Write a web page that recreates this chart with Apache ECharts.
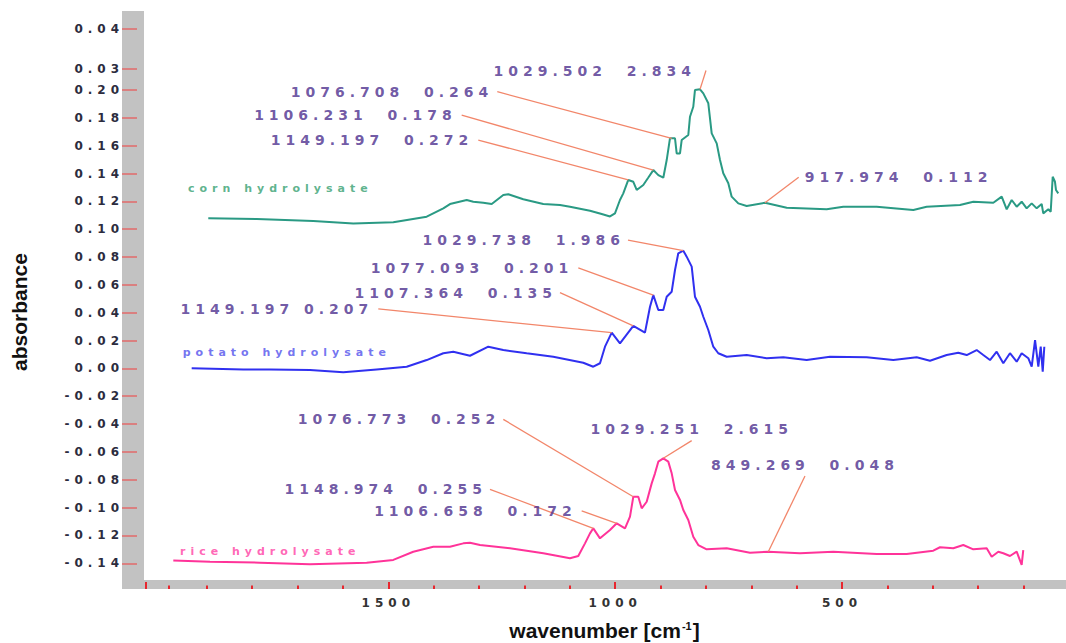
<!DOCTYPE html>
<html>
<head>
<meta charset="utf-8">
<script src="https://cdn.jsdelivr.net/npm/echarts@6/dist/echarts.min.js"></script>
<style>
html, body { margin: 0; padding: 0; background: #ffffff; }
#chart { width: 1066px; height: 643px; }
#chart text { letter-spacing: 5px; white-space: pre; }
#chart text[style*="Liberation"] { letter-spacing: 0px; }
</style>
</head>
<body>
<div id="chart"></div>
<script>
// ---------------- data (wavenumber on the drawn axis, absorbance on the drawn axis) ----------------
const cornData = [
  [1896.8,0.1078],[1790.1,0.1073],[1665.4,0.1059],[1577.2,0.1042],[1489.0,0.1050],[1415.4,0.1090],
  [1378.8,0.1150],[1364.1,0.1181],[1327.2,0.1210],[1312.7,0.1198],[1290.7,0.1190],[1272.1,0.1181],
  [1246.6,0.1246],[1235.5,0.1251],[1202.5,0.1215],[1158.4,0.1181],[1121.6,0.1174],[1099.6,0.1162],
  [1055.5,0.1133],[1029.7,0.1109],[1011.4,0.1092],[1000.4,0.1114],[989.4,0.1210],[982.1,0.1258],
  [971.1,0.1354],[960.0,0.1341],[952.5,0.1282],[938.0,0.1318],[927.6,0.1368],[915.9,0.1425],
  [904.9,0.1389],[893.9,0.1370],[886.4,0.1497],[879.2,0.1653],[868.1,0.1653],[864.4,0.1545],
  [857.1,0.1545],[853.4,0.1641],[838.8,0.1677],[835.1,0.1808],[827.8,0.1880],[824.1,0.2000],
  [813.0,0.2005],[805.7,0.1976],[794.7,0.1905],[787.2,0.1689],[776.2,0.1617],[768.9,0.1497],
  [761.7,0.1402],[750.6,0.1330],[743.2,0.1234],[728.6,0.1186],[710.1,0.1167],[669.8,0.1190],
  [621.9,0.1154],[533.8,0.1143],[497.2,0.1162],[423.6,0.1162],[342.9,0.1138],[313.4,0.1162],
  [240.0,0.1174],[210.6,0.1198],[166.5,0.1190],[148.0,0.1234],[137.0,0.1143],[126.0,0.1210],
  [115.0,0.1162],[104.0,0.1198],[93.0,0.1150],[81.9,0.1186],[70.9,0.1150],[59.9,0.1181],
  [56.4,0.1114],[45.3,0.1143],[40.0,0.1126],[35.6,0.1377],[30.6,0.1341],[28.4,0.1282],[23.3,0.1258]
];
const potatoData = [
  [1933.4,0.0001],[1819.6,-0.0007],[1760.8,-0.0007],[1672.6,-0.0012],[1599.2,-0.0028],[1525.6,-0.0007],
  [1459.5,0.0012],[1415.4,0.0060],[1378.8,0.0109],[1356.8,0.0120],[1320.0,0.0091],[1279.6,0.0156],
  [1246.6,0.0132],[1195.0,0.0109],[1136.4,0.0084],[1070.3,0.0041],[1048.2,0.0012],[1033.4,0.0037],
  [1022.4,0.0156],[1007.6,0.0257],[989.4,0.0180],[960.0,0.0305],[934.3,0.0257],[923.2,0.0443],
  [915.9,0.0527],[904.9,0.0420],[893.9,0.0420],[886.4,0.0515],[875.4,0.0551],[868.1,0.0707],
  [860.9,0.0827],[849.8,0.0846],[842.4,0.0803],[831.3,0.0731],[824.1,0.0515],[813.0,0.0443],
  [805.7,0.0371],[794.7,0.0276],[783.7,0.0156],[772.7,0.0109],[754.2,0.0084],[710.1,0.0096],
  [666.0,0.0073],[629.4,0.0080],[577.9,0.0060],[526.5,0.0084],[445.6,0.0080],[387.0,0.0060],
  [335.4,0.0080],[306.1,0.0055],[269.3,0.0096],[243.7,0.0113],[225.2,0.0096],[203.2,0.0132],
  [188.6,0.0096],[173.8,0.0060],[159.1,0.0120],[144.5,0.0037],[129.8,0.0109],[115.0,0.0048],
  [104.0,0.0109],[89.4,0.0073],[81.9,0.0012],[74.5,0.0204],[67.3,0.0012],[62.0,0.0156],
  [57.6,-0.0024],[54.1,0.0156]
];
const riceData = [
  [1973.9,-0.1381],[1893.0,-0.1389],[1782.8,-0.1396],[1672.6,-0.1407],[1547.7,-0.1396],[1489.0,-0.1376],
  [1445.0,-0.1317],[1400.9,-0.1281],[1364.1,-0.1281],[1334.7,-0.1257],[1320.0,-0.1252],[1297.9,-0.1269],
  [1231.8,-0.1292],[1158.4,-0.1328],[1099.6,-0.1364],[1081.3,-0.1348],[1066.5,-0.1257],[1055.5,-0.1185],
  [1048.2,-0.1149],[1033.4,-0.1221],[1011.4,-0.1161],[996.6,-0.1113],[978.3,-0.1149],[967.3,-0.1065],
  [960.0,-0.0922],[949.0,-0.0922],[941.5,-0.1005],[930.5,-0.0958],[919.5,-0.0826],[912.2,-0.0754],
  [904.9,-0.0670],[893.9,-0.0646],[882.9,-0.0670],[875.4,-0.0754],[868.1,-0.0874],[857.1,-0.0945],
  [849.8,-0.1017],[838.8,-0.1089],[827.8,-0.1209],[816.8,-0.1269],[798.3,-0.1300],[754.2,-0.1292],
  [702.8,-0.1324],[662.5,-0.1317],[592.6,-0.1328],[519.2,-0.1317],[423.6,-0.1333],[357.4,-0.1333],
  [298.8,-0.1310],[284.0,-0.1285],[254.7,-0.1292],[232.7,-0.1269],[210.6,-0.1300],[181.1,-0.1292],
  [170.1,-0.1353],[155.5,-0.1317],[144.5,-0.1328],[129.8,-0.1348],[115.0,-0.1317],[104.0,-0.1412],
  [100.5,-0.1305]
];

// axis ticks and labels
const yTickValues = [0.2438, 0.2151, 0.20, 0.18, 0.16, 0.14, 0.12, 0.10, 0.08, 0.06, 0.04, 0.02, 0.00,
  -0.02, -0.04, -0.06, -0.08, -0.10, -0.12, -0.14];
const yTickLabels = ['0.04', '0.03', '0.20', '0.18', '0.16', '0.14', '0.12', '0.10', '0.08', '0.06', '0.04',
  '0.02', '0.00', '-0.02', '-0.04', '-0.06', '-0.08', '-0.10', '-0.12', '-0.14'];
const xMajorTicks = [2034, 1500, 1000, 500];
const xLabelValues = [1500, 1000, 500];
const xMinorTicks = [1985, 1900, 1800, 1700, 1600, 1400, 1300, 1200, 1100, 900, 800, 700, 600, 400, 300, 200, 100];
const xRange = [6.3, 2040.7];
const yRange = [-0.1585, 0.2568];

// peak annotations
const peakTexts = ['1029.502  2.834', '1076.708  0.264', '1106.231  0.178', '1149.197  0.272', '917.974  0.112',
  '1029.738  1.986', '1077.093  0.201', '1107.364  0.135', '1149.197 0.207',
  '1076.773  0.252', '1029.251  2.615', '1148.974  0.255', '1106.658  0.172', '849.269  0.048'];
const peakTrace = ['corn', 'corn', 'corn', 'corn', 'corn', 'potato', 'potato', 'potato', 'potato',
  'rice', 'rice', 'rice', 'rice', 'rice'];
const peakPoints = [[813.0,0.2005],[875.4,0.1653],[915.9,0.1425],[971.1,0.1354],[669.8,0.1190],
  [849.8,0.0846],[915.9,0.0527],[960.0,0.0305],[1007.6,0.0257],
  [960.0,-0.0922],[893.9,-0.0646],[1048.2,-0.1149],[996.6,-0.1113],[662.5,-0.1317]];
const leaderEnds = [[799.8,0.2140],[1259.8,0.1988],[1338.3,0.1820],[1301.7,0.1641],[595.5,0.1373],
  [971.7,0.0922],[1081.3,0.0723],[1121.6,0.0544],[1522.1,0.0427],
  [1246.6,-0.0366],[831.3,-0.0519],[1275.9,-0.0869],[1073.8,-0.1024],[581.6,-0.0773]];

// sample names
const sampleKeys = ['corn', 'potato', 'rice'];
const sampleNames = ['corn hydrolysate', 'potato hydrolysate', 'rice hydrolysate'];
const sampleNameAnchors = [[1941.5,0.1294],[1953.2,0.0113],[1959.2,-0.1317]];

// ---------------- styles / layout ----------------
const traceColors = { corn: '#2a9a84', potato: '#3030f0', rice: '#ff3399' };
const nameColors = ['#34a070', '#5050ec', '#ff40a4'];
const labelSides = ['left','left','left','left','right','left','left','left','left','left','top','left','left','top'];
const labelGaps = [10, 4, 5, 5, 6, 3, 5, 3, 5, 3, 5, 3, 5, 4];
const traceSets = { corn: cornData, potato: potatoData, rice: riceData };

function nearestLabel(v) {
  let best = 0;
  for (let i = 1; i < yTickValues.length; i++) {
    if (Math.abs(yTickValues[i] - v) < Math.abs(yTickValues[best] - v)) best = i;
  }
  return yTickLabels[best];
}

const baseX = { type: 'value', min: xRange[0], max: xRange[1], inverse: true, position: 'bottom',
  splitLine: { show: false } };
const baseY = { type: 'value', min: yRange[0], max: yRange[1], position: 'left', splitLine: { show: false } };

const series = sampleKeys.map(function (key) {
  const lines = [];
  peakTrace.forEach(function (t, i) {
    if (t === key) lines.push([{ coord: peakPoints[i] }, { coord: leaderEnds[i] }]);
  });
  return {
    name: key, type: 'line', data: traceSets[key], showSymbol: false, symbol: 'none',
    lineStyle: { color: traceColors[key], width: 2 }, itemStyle: { color: traceColors[key] },
    silent: true, z: 3,
    markLine: {
      silent: true, symbol: ['none', 'none'], label: { show: false },
      lineStyle: { color: '#f2866a', width: 1.3, type: 'solid' },
      emphasis: { disabled: true }, data: lines
    }
  };
});

series.push({
  name: 'peak labels', type: 'scatter', symbolSize: 0, silent: true, z: 5,
  itemStyle: { color: 'transparent' },
  label: { show: true, formatter: '{b}', color: '#4c2f8e', fontSize: 14, fontWeight: 'bold',
    fontFamily: 'DejaVu Sans' },
  data: peakTexts.map(function (txt, i) {
    return { name: txt, value: leaderEnds[i], label: { position: labelSides[i], distance: labelGaps[i] } };
  })
});

series.push({
  name: 'sample names', type: 'scatter', symbolSize: 0, silent: true, z: 5,
  itemStyle: { color: 'transparent' },
  label: { show: true, formatter: '{b}', position: 'right', distance: 0, fontSize: 11, fontWeight: 'bold',
    fontFamily: 'DejaVu Sans' },
  data: sampleNames.map(function (n, i) {
    return { name: n, value: sampleNameAnchors[i], label: { color: nameColors[i] } };
  })
});

const option = {
  backgroundColor: '#ffffff',
  animation: false,
  grid: { left: 143, right: 0, top: 11, bottom: 54, containLabel: false, outerBoundsMode: 'none' },
  xAxis: [
    Object.assign({}, baseX, {
      offset: -4.5,
      axisLine: { show: true, onZero: false, lineStyle: { color: '#c2c2c2', width: 9, cap: 'butt' } },
      axisTick: { show: false }, axisLabel: { show: false }
    }),
    Object.assign({}, baseX, {
      offset: 0,
      axisLine: { show: false, onZero: false },
      axisTick: { show: true, inside: true, length: 7, customValues: xMajorTicks,
        lineStyle: { color: '#e8262e', width: 2 } },
      axisLabel: { show: true, customValues: xLabelValues, margin: 8, color: '#333333', fontSize: 12,
        fontWeight: 'bold', fontFamily: 'DejaVu Sans', formatter: function (v) { return String(v); } },
      name: 'wavenumber [cm{sup|-1}]', nameLocation: 'middle', nameGap: 31,
      nameTextStyle: { color: '#111111', fontSize: 21, fontWeight: 'bold', fontFamily: 'Liberation Sans',
        rich: { sup: { fontSize: 11, fontWeight: 'bold', fontFamily: 'Liberation Sans', color: '#111111',
          verticalAlign: 'top', padding: [0, 1, 10, 1] } } }
    }),
    Object.assign({}, baseX, {
      offset: 0,
      axisLine: { show: false, onZero: false },
      axisTick: { show: true, inside: true, length: 3.5, customValues: xMinorTicks,
        lineStyle: { color: '#e8262e', width: 2 } },
      axisLabel: { show: false }
    })
  ],
  yAxis: [
    Object.assign({}, baseY, {
      offset: 10.5,
      axisLine: { show: true, onZero: false, lineStyle: { color: '#c2c2c2', width: 22, cap: 'butt' } },
      axisTick: { show: false }, axisLabel: { show: false }
    }),
    Object.assign({}, baseY, {
      offset: 21,
      axisLine: { show: false, onZero: false },
      axisTick: { show: true, inside: true, length: 15, customValues: yTickValues,
        lineStyle: { color: '#e26a6a', width: 1.5 } },
      axisLabel: { show: true, customValues: yTickValues, margin: -2, color: '#2c2c3e', fontSize: 12,
        fontWeight: 'bold', fontFamily: 'DejaVu Sans', formatter: nearestLabel }
    })
  ],
  graphic: [{
    type: 'text', x: 19, y: 312, rotation: Math.PI / 2, silent: true,
    style: { text: 'absorbance', fill: '#111111', fontSize: 21, fontWeight: 'bold',
      fontFamily: 'Liberation Sans', align: 'center', verticalAlign: 'middle' }
  }],
  series: series
};

const chart = echarts.init(document.getElementById('chart'), null, { renderer: 'svg', width: 1066, height: 643 });
chart.setOption(option);
</script>
</body>
</html>
